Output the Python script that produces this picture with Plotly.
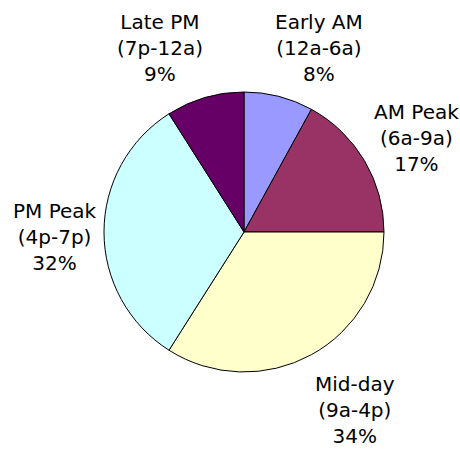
import math
import plotly.graph_objects as go

# периоды суток и доли поездок
periods = ["Early AM", "AM Peak", "Mid-day", "PM Peak", "Late PM"]
hours = ["(12a-6a)", "(6a-9a)", "(9a-4p)", "(4p-7p)", "(7p-12a)"]
shares = [8, 17, 34, 32, 9]
colors = ["#9999FF", "#993366", "#FFFFCC", "#CCFFFF", "#660066"]

W, H = 460, 449
cx, cy, r = 244, 232, 140   # центр и радиус круга в пикселях
label_dist = 200            # расстояние подписей от центра
# подгонка подписей (px), как в исходной картинке
nudge_x = [25, 0, 15, 11, -28]
nudge_y = [-10, -8, -3, -5, -8]

fig = go.Figure(go.Pie(
    labels=periods,
    values=shares,
    sort=False,
    direction="clockwise",
    rotation=0,
    marker=dict(colors=colors, line=dict(color="black", width=1)),
    textinfo="none",
    showlegend=False,
    hoverinfo="label+percent",
    domain=dict(x=[(cx - r) / W, (cx + r) / W], y=[1 - (cy + r) / H, 1 - (cy - r) / H]),
))

# подписи снаружи по середине каждого сектора
total = sum(shares)
cum = 0
for i, (name, hrs, s) in enumerate(zip(periods, hours, shares)):
    mid = (cum + s / 2) / total * 2 * math.pi
    cum += s
    px = cx + label_dist * math.sin(mid)
    py = cy - label_dist * math.cos(mid)
    fig.add_annotation(
        x=px / W, y=1 - py / H, xref="paper", yref="paper",
        text=f"{name}<br>{hrs}<br>{round(s / total * 100)}%",
        showarrow=False, xanchor="center", yanchor="middle",
        xshift=nudge_x[i], yshift=nudge_y[i],
        font=dict(family="DejaVu Sans", size=20, color="black"),
    )

fig.update_layout(
    width=W, height=H,
    margin=dict(l=0, r=0, t=0, b=0),
    paper_bgcolor="white",
    font=dict(family="DejaVu Sans", size=20, color="black"),
)

# убираем отступ body, чтобы график стоял в левом верхнем углу
fig.write_html("out.html", config={"displayModeBar": False},
               post_script="document.body.style.margin='0';")
